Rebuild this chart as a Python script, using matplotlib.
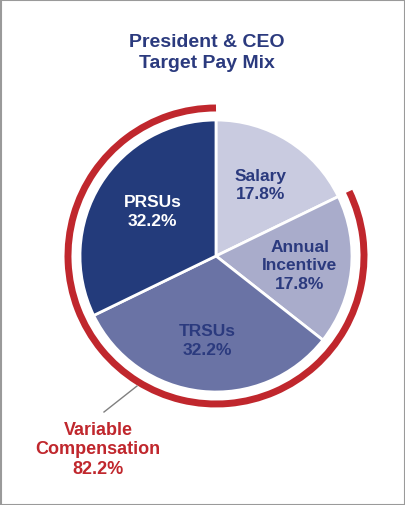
import matplotlib.pyplot as plt
from matplotlib.patches import Arc, Rectangle

plt.rcParams['font.family'] = ['Liberation Sans', 'DejaVu Sans']

labels = ['Salary', 'Annual\nIncentive', 'TRSUs', 'PRSUs']
shares = [17.8, 17.8, 32.2, 32.2]
colors = ['#c9cbe0', '#a9accb', '#6a73a5', '#233b7b']
text_colors = ['#2b3a7e', '#2b3a7e', '#2b3a7e', 'white']
variable_share = 82.2

navy = '#2b3a7e'
red = '#c0272d'

W, H = 405, 506
fig = plt.figure(figsize=(W / 100, H / 100), dpi=100)
ax = fig.add_axes([0, 0, 1, 1])
ax.set_xlim(0, W)
ax.set_ylim(0, H)
ax.axis('off')

cx, cy, r = 216, H - 257, 136
wedges, texts = ax.pie(
    shares,
    labels=[f'{n}\n{v}%' for n, v in zip(labels, shares)],
    colors=colors,
    startangle=90,
    counterclock=False,
    center=(cx, cy),
    radius=r,
    labeldistance=0.62,
    wedgeprops=dict(edgecolor='white', linewidth=2),
    textprops=dict(fontsize=12.5, fontweight='bold', ha='center', va='center'),
)
for t, c in zip(texts, text_colors):
    t.set_color(c)
    t.set_horizontalalignment('center')
    t.set_linespacing(1.3)
# PRSUs label sits a little toward the centre in the reference
x, y = texts[3].get_position()
texts[3].set_position((x + 8, y))
ax.set_xlim(0, W)
ax.set_ylim(0, H)

# red arc around the variable pay slices
start = 90 - shares[0] / 100 * 360
ax.add_patch(Arc((cx, cy), 2 * (r + 12), 2 * (r + 12), theta1=90, theta2=start + 360,
                 color=red, linewidth=5, capstyle='butt'))

ax.plot([137, 104], [H - 387, H - 413], color='#808080', linewidth=1)
ax.text(98, H - 450, f'Variable\nCompensation\n{variable_share}%', color=red,
        fontsize=13, fontweight='bold', ha='center', va='center', linespacing=1.2)

ax.text(207, H - 53, 'President & CEO\nTarget Pay Mix', color=navy, fontsize=14,
        fontweight='bold', ha='center', va='center', linespacing=1.3)

ax.add_patch(Rectangle((0.5, 0.5), W - 1, H - 1, fill=False, edgecolor='#9a9a9a', linewidth=1.5))

fig.savefig('out.png', dpi=100)
